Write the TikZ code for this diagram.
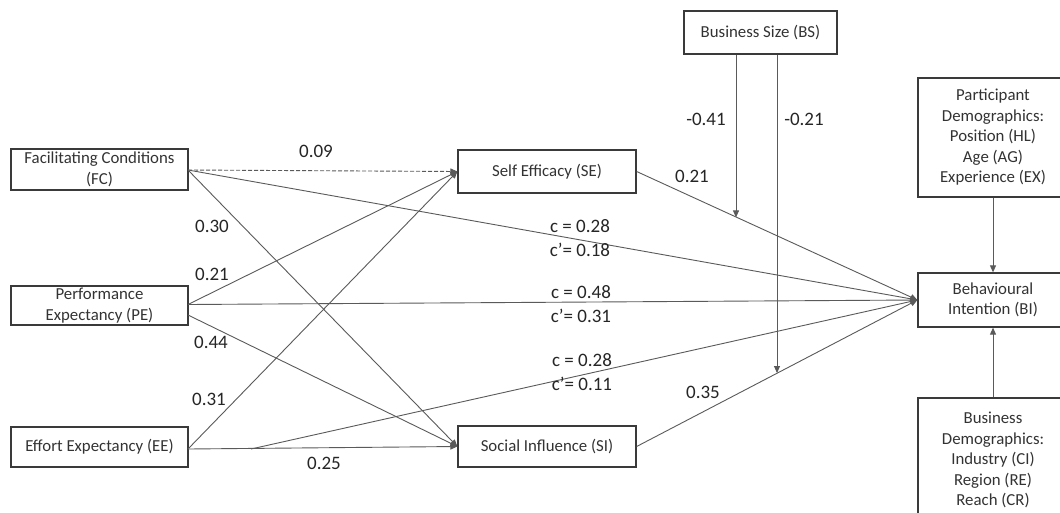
\documentclass[tikz,border=0pt]{standalone}
\usepackage{fontspec}
\setmainfont{Carlito}
\usetikzlibrary{arrows.meta}
\definecolor{boxline}{HTML}{3A3A3A}
\definecolor{connline}{HTML}{5A5A5A}
\definecolor{boxtext}{HTML}{333333}
\definecolor{labtext}{HTML}{262626}
\tikzset{
  box/.style={draw=boxline, line width=1.3pt, inner sep=0pt, align=center,
    text=boxtext, font=\fontsize{16.8}{20.5}\selectfont},
  conn/.style={draw=connline, line width=0.9pt,
    -{Triangle[length=7pt,width=6pt]}},
  lab/.style={inner sep=0pt, align=center, text=labtext,
    font=\fontsize{19}{24}\selectfont}
}
\begin{document}
\begin{tikzpicture}[x=1pt,y=-1pt]
\clip (0,0) rectangle (1060,512);
\fill[white] (0,0) rectangle (1060,512);
% boxes
\node[box, minimum width=177pt, minimum height=41pt] (fc) at (99.5,169.5) {Facilitating Conditions\\(FC)};
\node[box, minimum width=177pt, minimum height=39pt] (pe) at (99.5,305.5) {Performance\\Expectancy (PE)};
\node[box, minimum width=177pt, minimum height=40pt] (ee) at (99.5,447) {Effort Expectancy (EE)};
\node[box, minimum width=178pt, minimum height=43pt] (se) at (547,171.5) {Self Efficacy (SE)};
\node[box, minimum width=178pt, minimum height=41pt] (si) at (547,446.5) {Social Influence (SI)};
\node[box, minimum width=153pt, minimum height=43pt] (bs) at (760.5,32.5) {Business Size (BS)};
\node[box, minimum width=150pt, minimum height=54pt] (bi) at (993,300) {Behavioural\\Intention (BI)};
\node[box, minimum width=150pt, minimum height=119pt] (pd) at (993,137.5) {Participant\\Demographics:\\Position (HL)\\Age (AG)\\Experience (EX)};
\node[box, minimum width=150pt, minimum height=124pt] (bd) at (993,460) {Business\\Demographics:\\Industry (CI)\\Region (RE)\\Reach (CR)};
% start points
\coordinate (fc1) at (188,170);
\coordinate (pe1) at (188,304.5);
\coordinate (pe2) at (188,315);
\coordinate (ee1) at (188,449);
\coordinate (eeb) at (251,449);
\coordinate (m1) at (736,217.4);
\coordinate (m2) at (777,373);
% connectors
\draw[conn, dash pattern=on 4pt off 2pt] (fc1) -- (se.west);
\draw[conn] (fc1) -- (bi.west);
\draw[conn] (fc1) -- (si.west);
\draw[conn] (pe1) -- (se.west);
\draw[conn] (pe1) -- (bi.west);
\draw[conn] (pe2) -- (si.west);
\draw[conn] (ee1) -- (se.west);
\draw[conn] (ee1) -- (si.west);
\draw[conn] (eeb) -- (bi.west);
\draw[conn] (se.east) -- (bi.west);
\draw[conn] (si.east) -- (bi.west);
\draw[conn] (bs.south -| m1) -- (m1);
\draw[conn] (bs.south -| m2) -- (m2);
\draw[conn] (pd.south) -- (bi.north);
\draw[conn] (bd.north) -- (bi.south);
% labels
\node[lab] (l09) at (316,151) {0.09};
\node[lab] (l30) at (212,226) {0.30};
\node[lab] (l21a) at (212,274) {0.21};
\node[lab] (l44) at (211,342) {0.44};
\node[lab] (l31) at (209,399) {0.31};
\node[lab] (l25) at (324,463) {0.25};
\node[lab] (l21b) at (692,176) {0.21};
\node[lab] (l41) at (706,119) {-0.41};
\node[lab] (l21c) at (804,119) {-0.21};
\node[lab] (l35) at (703,392) {0.35};
\node[lab] (cfc) at (580,238) {c = 0.28\\c’= 0.18};
\node[lab] (cpe) at (581,304) {c = 0.48\\c’= 0.31};
\node[lab] (cee) at (582,372) {c = 0.28\\c’= 0.11};
\end{tikzpicture}
\end{document}
